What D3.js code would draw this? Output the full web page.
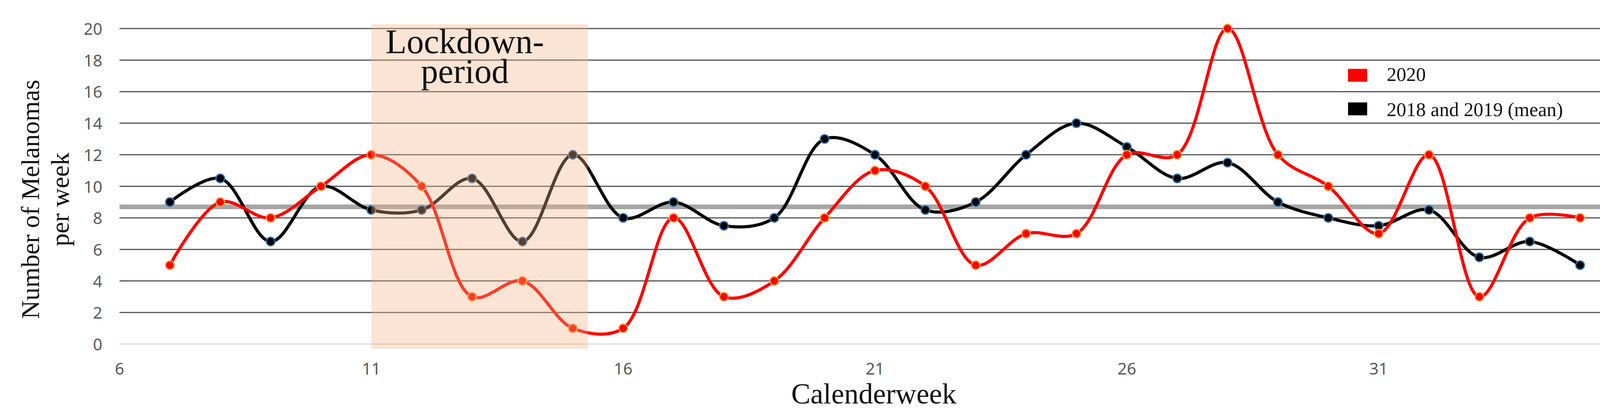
<!DOCTYPE html>
<html><head><meta charset="utf-8">
<script src="https://cdn.jsdelivr.net/npm/d3@7"></script>
<style>html,body{margin:0;overflow:hidden;background:#fff}svg{display:block}</style>
</head><body><svg id="chart"></svg>
<script>
const weeks = d3.range(7, 36);
const cases2020 = [5,9,8,10,12,10,3,4,1,1,8,3,4,8,11,10,5,7,7,12,12,20,12,10,7,12,3,8,8];
const casesMean = [9,10.5,6.5,10,8.5,8.5,10.5,6.5,12,8,9,7.5,8,13,12,8.5,9,12,14,12.5,10.5,11.5,9,8,7.5,8.5,5.5,6.5,5];
const xTicks = [6,11,16,21,26,31,36];
const yTicks = [0,2,4,6,8,10,12,14,16,18,20];
const lockdown = [11, 15.3];
const overallMean = 8.7;

const W = 4239, H = 1064;
const svg = d3.select("#chart").attr("width", W).attr("height", H);

const x = d3.scaleLinear().domain([6, 36]).range([306, 4174]);
const y = d3.scaleLinear().domain([0, 20]).range([880, 73]);

// gitter
svg.append("g").selectAll("line").data(yTicks).enter().append("line")
    .attr("x1", x(6)).attr("x2", x(36))
    .attr("y1", d => y(d)).attr("y2", d => y(d))
    .attr("stroke", d => d === 0 ? "#d9d9d9" : "#555").attr("stroke-width", 3);

svg.append("g").selectAll("text").data(yTicks).enter().append("text")
    .attr("x", 262).attr("y", d => y(d) + 16)
    .attr("text-anchor", "end").attr("font-family", "Noto Sans").attr("font-size", 42)
    .attr("fill", "#595959").text(d => d);

svg.append("g").selectAll("text").data(xTicks).enter().append("text")
    .attr("x", d => x(d)).attr("y", 958)
    .attr("text-anchor", "middle").attr("font-family", "Noto Sans").attr("font-size", 42)
    .attr("fill", "#595959").text(d => d);

// mittelwert
svg.append("line").attr("x1", x(6)).attr("x2", x(36))
    .attr("y1", y(overallMean)).attr("y2", y(overallMean))
    .attr("stroke", "#a6a6a6").attr("stroke-width", 12);

const line = d3.line().x(d => x(d[0])).y(d => y(d[1])).curve(d3.curveCatmullRom.alpha(0.5));

function series(vals, color, ring) {
    const pts = weeks.map((w, i) => [w, vals[i]]);
    svg.append("path").datum(pts).attr("d", line)
        .attr("fill", "none").attr("stroke", color).attr("stroke-width", 8);
    svg.append("g").selectAll("circle").data(pts).enter().append("circle")
        .attr("cx", d => x(d[0])).attr("cy", d => y(d[1])).attr("r", 11)
        .attr("fill", color).attr("stroke", ring).attr("stroke-width", 3);
}
series(casesMean, "#000", "#2e75b6");
series(cases2020, "#f00", "#f4a040");

// lockdown-band oben drauf
svg.append("rect").attr("x", x(lockdown[0])).attr("width", x(lockdown[1]) - x(lockdown[0]))
    .attr("y", 62).attr("height", 830)
    .attr("fill", "#f4b183").attr("opacity", 0.35);

const lt = svg.append("text").attr("font-family", "Liberation Serif").attr("font-size", 88)
    .attr("text-anchor", "middle").attr("fill", "#111");
lt.append("tspan").attr("x", 1190).attr("y", 136).text("Lockdown-");
lt.append("tspan").attr("x", 1190).attr("y", 212).text("period");

// legende
const legend = [["2020", "#f00"], ["2018 and 2019 (mean)", "#000"]];
legend.forEach((l, i) => {
    svg.append("rect").attr("x", 3451).attr("y", 176 + i * 86).attr("width", 49).attr("height", 33).attr("fill", l[1]);
    svg.append("text").attr("x", 3550).attr("y", 207 + i * 90)
        .attr("font-family", "Liberation Serif").attr("font-size", 50).attr("fill", "#111").text(l[0]);
});

// achsentitel
svg.append("text").attr("x", 2237).attr("y", 1032).attr("text-anchor", "middle")
    .attr("font-family", "Liberation Serif").attr("font-size", 74).attr("fill", "#111").text("Calenderweek");
const yt = svg.append("text").attr("transform", "translate(0,510) rotate(-90)")
    .attr("text-anchor", "middle").attr("font-family", "Liberation Serif").attr("font-size", 66).attr("fill", "#111");
yt.append("tspan").attr("x", 0).attr("y", 100).text("Number of Melanomas");
yt.append("tspan").attr("x", 0).attr("y", 176).text("per week");
</script>
</body></html>
